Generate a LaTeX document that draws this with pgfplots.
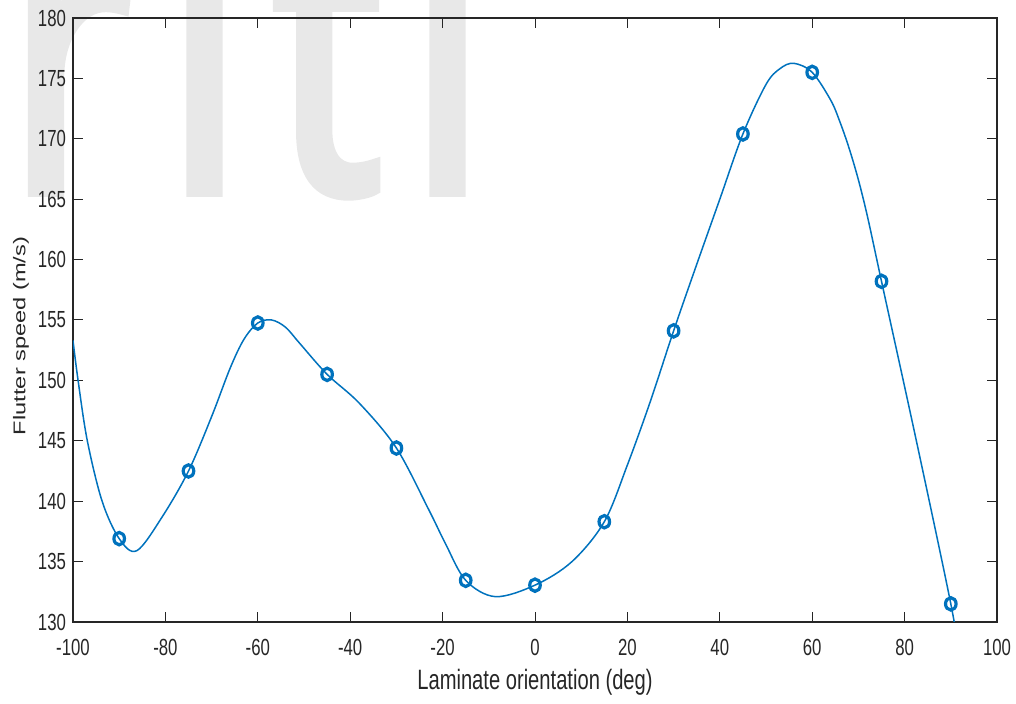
\documentclass[border=0pt]{standalone}
\usepackage{pgfplots}
\pgfplotsset{compat=1.18}
\usepackage{fontspec}
\setmainfont[FakeStretch=0.72]{Liberation Sans}
\newfontfamily\ylabfont{Liberation Sans}
\newfontfamily\wmfont[FakeStretch=0.77, FakeBold=3]{Open Sans}
\definecolor{mblue}{RGB}{0,114,189}
\definecolor{axgray}{RGB}{38,38,38}
\definecolor{wmgray}{RGB}{232,232,232}

\pgfplotstableread{
x y
-100 153.3
-98.9 150.0
-96.9 145.0
-93.7 140.0
-90 136.9
-86.2 135.9
-80.7 138.7
-75 142.5
-70 147.0
-66 151.0
-63 153.4
-60 154.75
-57 155.0
-54 154.4
-51 153.1
-45 150.5
-38 148.1
-30 144.4
-23 139.3
-19.4 136.5
-15 133.45
-8.6 132.1
0 133.05
8 135.0
15 138.3
20 143.0
25 148.3
30 154.1
35 159.6
40 165.0
45 170.4
50 174.5
53 175.8
56 176.25
60 175.5
64 173.2
66 171.4
68 169.2
70 166.6
72 163.5
75 158.2
82.6 144.9
90 131.5
92 126.8
}\curvedata

\pgfplotstableread{
x y
-90 136.9
-75 142.5
-60 154.75
-45 150.5
-30 144.4
-15 133.45
0 133.05
15 138.3
30 154.1
45 170.4
60 175.5
75 158.2
90 131.5
}\markdata

\begin{document}
\begin{tikzpicture}
\path[use as bounding box] (-36.5pt,-41pt) rectangle (471.5pt,311pt);
\begin{scope}[every node/.style={anchor=base, inner sep=0pt, text=wmgray, font=\wmfont\fontsize{196}{220}\selectfont}]
\node at (-1.75pt,215.5pt) {r};
\node at (65.75pt,215.5pt) {i};
\node at (127.25pt,215.5pt) {t};
\node at (187.25pt,215.5pt) {i};
\end{scope}
\begin{axis}[
  at={(0,0)}, anchor=south west,
  scale only axis,
  width=462pt, height=302pt,
  xmin=-100, xmax=100, ymin=130, ymax=180,
  xtick={-100,-80,...,100},
  ytick={130,135,...,180},
  tick align=inside,
  axis line style={axgray, line width=0.6pt},
  tick style={axgray, line width=0.5pt},
  major tick length=5pt,
  /pgf/number format/assume math mode=true,
  ticklabel style={font=\fontsize{11.65}{14}\selectfont, text=axgray},
  xticklabel style={yshift=-5pt},
  xlabel={Laminate orientation (deg)},
  ylabel={\scalebox{1}[0.72]{\ylabfont\fontsize{11.8}{14}\selectfont Flutter speed (m/s)}},
  xlabel style={font=\fontsize{14}{16}\selectfont, text=axgray, at={(axis description cs:0.5,0)}, anchor=base, yshift=-34pt},
  ylabel style={text=axgray, at={(axis description cs:0,0.4735)}, anchor=center, xshift=0pt, yshift=26pt},
]
\addplot[mblue, line width=0.75pt, smooth, tension=0.55] table[x=x,y=y] {\curvedata};
\addplot[only marks, mark=o, mark size=3.1pt, mblue, mark options={line width=1.6pt, xscale=0.85}] table[x=x,y=y] {\markdata};
\end{axis}
\end{tikzpicture}
\end{document}
